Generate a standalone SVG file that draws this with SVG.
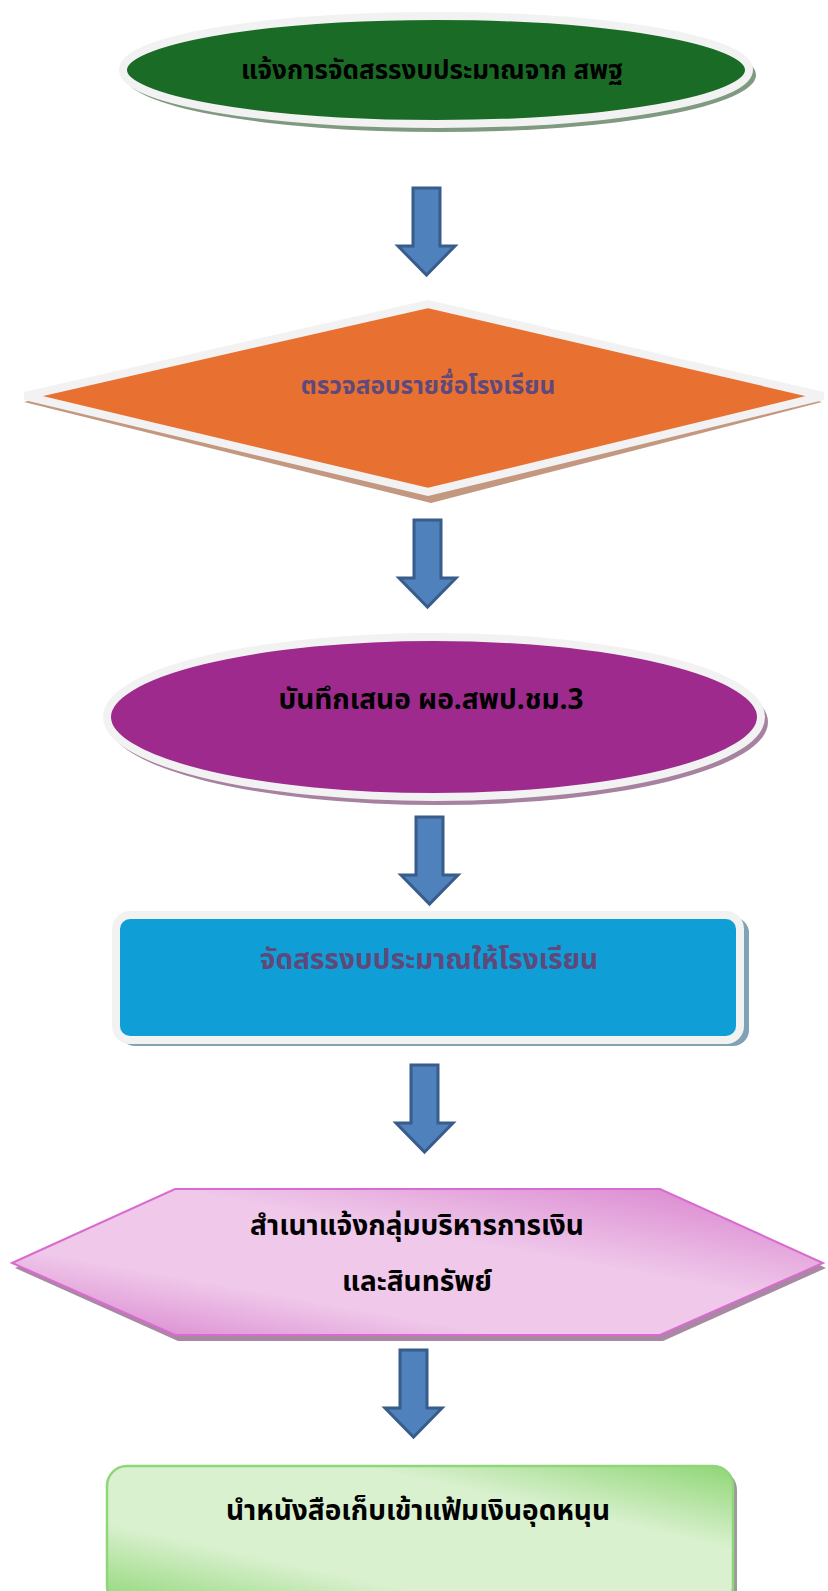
<svg xmlns="http://www.w3.org/2000/svg" xmlns:xlink="http://www.w3.org/1999/xlink" width="828" height="1591" viewBox="0 0 828 1591">
<style>
.t{font-family:"Noto Sans Thai","Loma","Tahoma","Noto Sans",sans-serif;font-weight:bold;text-anchor:middle;dominant-baseline:central;}
.blk{fill:#000000;font-size:28px;}
.pur{fill:#5f497a;font-size:28px;}
.border{stroke:#f2f2f2;stroke-width:8;}
.arrow{fill:#4f81bd;stroke:#385d8a;stroke-width:3;stroke-linejoin:miter;}
</style>
<defs>
<path id="arr" d="M15,0 H42 V58 H57 L28.5,87 L0,58 H15 Z"/>
<linearGradient id="gpink" x1="0" y1="1" x2="1" y2="0">
<stop offset="0" stop-color="#d77ccb"/>
<stop offset="0.3" stop-color="#efc8ea"/>
<stop offset="0.6" stop-color="#efc8ea"/>
<stop offset="1" stop-color="#d77ccb"/>
</linearGradient>
<linearGradient id="ggreen" x1="0" y1="1" x2="1" y2="0">
<stop offset="0" stop-color="#8fd675"/>
<stop offset="0.3" stop-color="#daf1d0"/>
<stop offset="0.7" stop-color="#daf1d0"/>
<stop offset="1" stop-color="#8fd675"/>
</linearGradient>
</defs>
<rect width="828" height="1591" fill="#ffffff"/>

<g id="node1">
<ellipse cx="440" cy="75" rx="316" ry="57" fill="#7f9a80"/>
<ellipse cx="436" cy="70" rx="313" ry="54" fill="#1a6b26" class="border"/>
<text class="t blk" x="432" y="71" style="font-size:26px">แจ้งการจัดสรรงบประมาณจาก สพฐ</text>
</g>

<g id="node2">
<polygon points="24,402 431,303 822,402 431,503" fill="#c39780"/>
<polygon points="25,396 428,304 823,396 428,492" fill="#e87132" class="border"/>
<text class="t pur" x="428" y="386" style="font-size:24.5px">ตรวจสอบรายชื่อโรงเรียน</text>
</g>

<g id="node3">
<ellipse cx="438" cy="722" rx="330" ry="83" fill="#a682a0"/>
<ellipse cx="434" cy="717" rx="327" ry="80" fill="#9e2a8e" class="border"/>
<text class="t blk" x="431" y="700">บันทึกเสนอ ผอ.สพป.ชม.3</text>
</g>

<g id="node4">
<rect x="119" y="917" width="630" height="129" rx="16" fill="#7fa3b4"/>
<rect x="116" y="915" width="624" height="125" rx="14" fill="#109ed6" class="border"/>
<text class="t pur" x="429" y="960">จัดสรรงบประมาณให้โรงเรียน</text>
</g>

<g id="node5">
<polygon points="15,1268 178,1193 663,1193 826,1268 663,1341 178,1341" fill="#a988a3"/>
<polygon points="12,1263 175,1189 660,1189 823,1263 660,1335 175,1335" fill="url(#gpink)" stroke="#d96bd0" stroke-width="2"/>
<text class="t blk" x="417" y="1226">สำเนาแจ้งกลุ่มบริหารการเงิน</text>
<text class="t blk" x="417" y="1282">และสินทรัพย์</text>
</g>

<g id="node6">
<rect x="110" y="1470" width="627" height="140" rx="20" fill="#9a9a9a"/>
<rect x="107" y="1466" width="626" height="140" rx="20" fill="url(#ggreen)" stroke="#8fd67a" stroke-width="2.5"/>
<text class="t blk" x="418" y="1511">นำหนังสือเก็บเข้าแฟ้มเงินอุดหนุน</text>
</g>

<g id="connectors">
<use xlink:href="#arr" class="arrow" x="398" y="188"/>
<use xlink:href="#arr" class="arrow" x="399" y="520"/>
<use xlink:href="#arr" class="arrow" x="401" y="817"/>
<use xlink:href="#arr" class="arrow" x="396" y="1065"/>
<use xlink:href="#arr" class="arrow" x="385" y="1350"/>
</g>
</svg>
